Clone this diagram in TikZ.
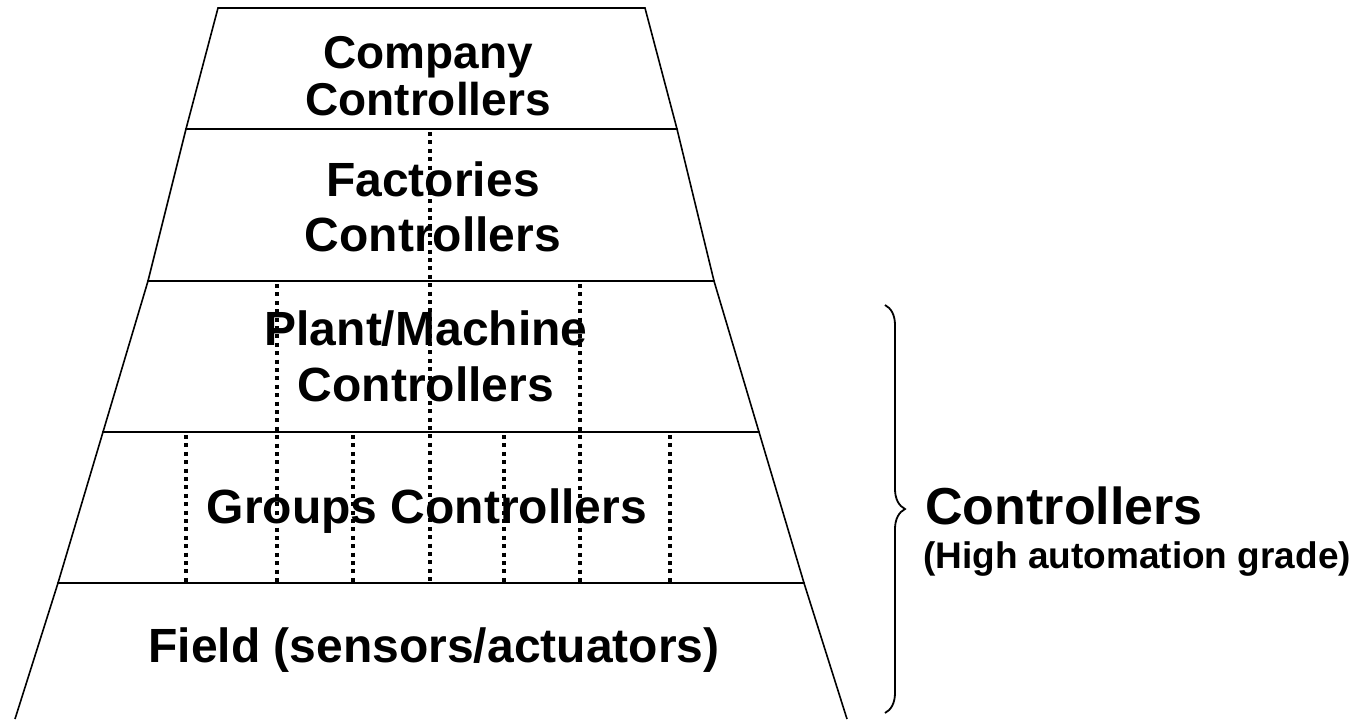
\documentclass[tikz,border=0pt]{standalone}
\usepackage{fontspec}
\setmainfont{Liberation Sans}
\usetikzlibrary{decorations.pathreplacing}
\tikzset{
    layer/.style={
        draw=black,
        line width=0.8pt
    },
    link/.style={
        draw=black,
        line width=1.8pt,
        dash pattern=on 2pt off 2.2pt
    },
    layertext/.style={
        anchor=base,
        inner sep=0pt,
        font=\fontsize{24}{28}\selectfont\bfseries
    },
    toptext/.style={
        layertext,
        font=\fontsize{23}{27}\selectfont\bfseries
    },
    sidetext/.style={
        anchor=base west,
        inner sep=0pt,
        font=\fontsize{26}{30}\selectfont\bfseries
    },
    subtext/.style={
        anchor=base west,
        inner sep=0pt,
        font=\fontsize{18.5}{22}\selectfont\bfseries
    },
    curly/.style={
        draw=black,
        line width=0.9pt,
        decorate,
        decoration={brace, amplitude=10pt}
    }
}

\begin{document}
\begin{tikzpicture}[x=0.5pt, y=-0.5pt]

\useasboundingbox (0,0) rectangle (1357,719);

% Pyramid layers
\draw[layer] (218,8) -- (645,8) -- (677,129) -- (186,129) -- cycle;
\draw[layer] (186,129) -- (677,129) -- (714,281) -- (148,281) -- cycle;
\draw[layer] (148,281) -- (714,281) -- (759,432) -- (103,432) -- cycle;
\draw[layer] (103,432) -- (759,432) -- (804,583) -- (58,583) -- cycle;
\draw[layer] (15,719) -- (58,583) -- (804,583) -- (847,719);

% Layer texts
\node[toptext] (company1) at (428,68) {Company};
\node[toptext] (company2) at (428,115) {Controllers};
\node[layertext] (factories1) at (433,196) {Factories};
\node[layertext] (factories2) at (433,251) {Controllers};
\node[layertext] (plant1) at (426,345) {Plant/Machine};
\node[layertext] (plant2) at (426,401) {Controllers};
\node[layertext] (groups) at (427,523) {Groups Controllers};
\node[layertext] (field) at (434,662) {Field (sensors/actuators)};

% Dotted splits
\draw[link] (430,132) -- (430,582);
\draw[link] (277,284) -- (277,582);
\draw[link] (580,284) -- (580,582);
\draw[link] (186,435) -- (186,582);
\draw[link] (353,435) -- (353,582);
\draw[link] (504,435) -- (504,582);
\draw[link] (670,435) -- (670,582);

% Brace and side texts
\draw[curly] (885,305) -- (885,713);
\node[sidetext] (ctrl) at (925,524) {Controllers};
\node[subtext] (grade) at (923,568) {(High automation grade)};

\end{tikzpicture}
\end{document}
